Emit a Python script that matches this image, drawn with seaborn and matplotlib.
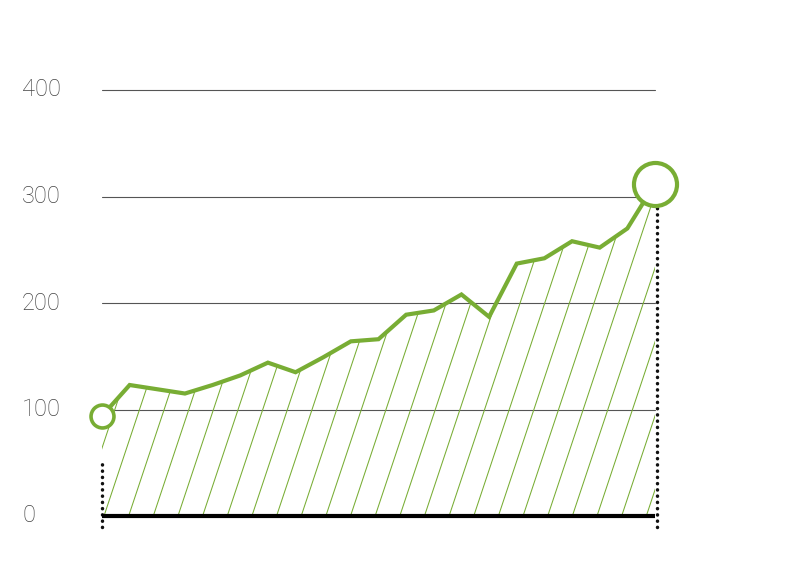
import numpy as np
import pandas as pd
import matplotlib
matplotlib.use("Agg")
import matplotlib.pyplot as plt
import seaborn as sns

# ---- data ----
periods = list(range(21))
values = [94, 123, 119, 115, 123, 132, 144, 135, 149, 164, 166,
          189, 193, 208, 187, 237, 242, 258, 252, 270, 312]
tick_values = [0, 100, 200, 300, 400]
tick_labels = ["0", "100", "200", "300", "400"]

GREEN = "#78ad34"

sns.set_style("white")
plt.rcParams["font.family"] = ["Roboto", "DejaVu Sans"]

W, H = 808, 586
fig = plt.figure(figsize=(W / 100, H / 100), dpi=100)
ax = fig.add_axes([102 / W, 70 / H, (655 - 102) / W, 426 / H])
ax.set_xlim(0, 20)
ax.set_ylim(0, 400)
ax.axis("off")

df = pd.DataFrame({"period": periods, "value": values})

# gridlines
for t in tick_values[1:]:
    ax.plot([0, 20], [t, t], color="#555555", lw=0.8, zorder=1, clip_on=False)

# hatch area (clip polygon)
poly = ax.fill_between(df["period"], 0, df["value"], facecolor="none",
                       edgecolor="none", zorder=0)
clip = poly.get_paths()[0]
px_x = 553 / 20.0
px_y = 426 / 400.0
spacing = 24.65 / px_x
slope = (1 / 3) * px_y / px_x  # x units per y unit
start = 2 / px_x
k0 = -int(np.ceil(400 * slope / spacing)) - 1
for k in range(k0, 30):
    x0 = start + k * spacing
    ln, = ax.plot([x0, x0 + slope * 400], [0, 400], color=GREEN, lw=0.75,
                  zorder=2)
    ln.set_clip_path(clip, ax.transData)

# baseline
ax.plot([0, 20], [0, 0], color="black", lw=3, solid_capstyle="butt",
        zorder=4, clip_on=False)

# dotted verticals
dot_style = (0, (0.05, 1.75))
ax.plot([0, 0], [-10.5, 49], color="#111111", lw=2.5, linestyle=dot_style,
        dash_capstyle="round", zorder=3, clip_on=False)
ax.plot([20.07, 20.07], [-10.5, 292], color="#111111", lw=2.5,
        linestyle=dot_style, dash_capstyle="round", zorder=3,
        clip_on=False)

# main line
sns.lineplot(data=df, x="period", y="value", color=GREEN, lw=3, ax=ax,
             zorder=5, legend=False)
for l in ax.lines[-1:]:
    l.set_clip_on(False)
    l.set_solid_joinstyle("miter")

# end markers
ax.plot([periods[0]], [values[0]], marker="o", ms=16.5, mfc="white",
        mec=GREEN, mew=2.6, zorder=6, clip_on=False)
ax.plot([periods[-1]], [values[-1]], marker="o", ms=31, mfc="white",
        mec=GREEN, mew=3, zorder=6, clip_on=False)

# y labels
for t, lab in zip(tick_values, tick_labels):
    ax.text(-80 / 553, t, lab, transform=ax.get_yaxis_transform(),
            ha="left", va="center", fontsize=17, color="#444444",
            fontweight="light")

fig.savefig("out.png", dpi=100)
